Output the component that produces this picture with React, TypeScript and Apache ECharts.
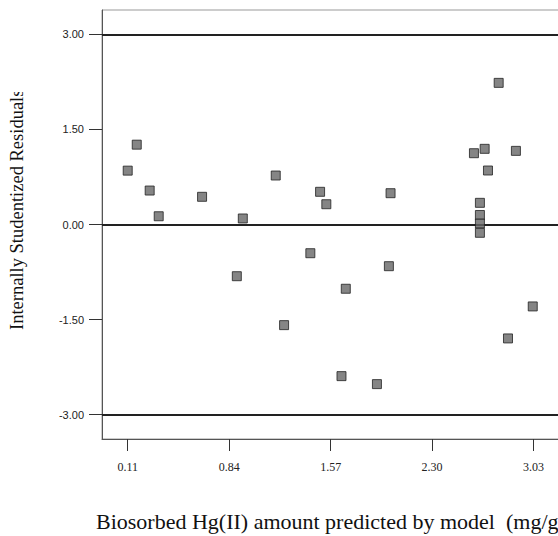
import React, { useEffect, useRef } from "react";
import * as echarts from "echarts";

const predicted = [
  0.11, 0.175, 0.268, 0.333, 0.645, 0.895, 0.938, 1.175, 1.235, 1.424,
  1.494, 1.539, 1.648, 1.679, 1.903, 2.001, 1.989, 2.601, 2.678, 2.702,
  2.779, 2.903, 2.644, 2.644, 2.644, 2.644, 2.846, 3.024,
];
const residuals = [
  0.85, 1.26, 0.536, 0.13, 0.437, -0.816, 0.095, 0.773, -1.588, -0.453,
  0.516, 0.32, -2.393, -1.014, -2.519, 0.494, -0.658, 1.125, 1.194, 0.852,
  2.235, 1.162, 0.342, 0.15, 0.016, -0.131, -1.798, -1.293,
];
const xTicks = [0.11, 0.84, 1.57, 2.3, 3.03];
const yTicks = [-3, -1.5, 0, 1.5, 3];
const refLines = [3, 0, -3];

const xTitle = "Biosorbed Hg(II) amount predicted by model  (mg/g)";
const yTitle = "Internally Studentized Residuals";

export default function App() {
  const ref = useRef<HTMLDivElement>(null);
  useEffect(() => {
    if (!ref.current) return;
    const chart = echarts.init(ref.current, undefined, { renderer: "svg" });
    const data = predicted.map((x, i) => [x, residuals[i]]);
    chart.setOption({
      animation: false,
      backgroundColor: "#fff",
      grid: {
        left: 102,
        top: 10,
        width: 483,
        height: 429,
        show: true,
        borderColor: "#999",
        borderWidth: 1,
      },
      xAxis: {
        type: "value",
        min: -0.075,
        max: 3.4,
        axisLine: { show: true, onZero: false, lineStyle: { color: "#555", width: 1 } },
        axisTick: {
          show: true,
          inside: false,
          length: 12,
          customValues: xTicks,
          lineStyle: { color: "#333", width: 1 },
        },
        axisLabel: {
          customValues: xTicks,
          formatter: (v: number) => v.toFixed(2),
          margin: 22,
          fontFamily: "Liberation Serif",
          fontSize: 12,
          color: "#222",
          verticalAlign: "top",
        },
        splitLine: { show: false },
      },
      yAxis: {
        type: "value",
        min: -3.385,
        max: 3.385,
        axisLine: { show: true, onZero: false, lineStyle: { color: "#555", width: 1 } },
        axisTick: {
          show: true,
          length: 13,
          customValues: yTicks,
          lineStyle: { color: "#333" },
        },
        axisLabel: {
          customValues: yTicks,
          formatter: (v: number) => v.toFixed(2),
          margin: 18,
          fontFamily: "Liberation Sans",
          fontSize: 11,
          color: "#222",
        },
        splitLine: { show: false },
      },
      series: [
        {
          type: "scatter",
          data,
          symbol: "rect",
          symbolSize: 9,
          itemStyle: { color: "#666", borderColor: "#222", borderWidth: 1 },
          z: 3,
          markLine: {
            silent: true,
            symbol: "none",
            label: { show: false },
            lineStyle: { color: "#222", width: 2, type: "solid" },
            data: refLines.map((v) => ({ yAxis: v })),
            z: 2,
          },
        },
      ],
      graphic: [
        {
          type: "text",
          left: 96,
          top: 510,
          style: {
            text: xTitle,
            font: "22px 'Liberation Serif'",
            fill: "#111",
          },
        },
        {
          type: "text",
          x: 7,
          y: 330,
          rotation: Math.PI / 2,
          style: {
            text: yTitle,
            font: "18.5px 'Liberation Serif'",
            fill: "#111",
            verticalAlign: "top",
          },
        },
        {
          type: "rect",
          shape: { x: 0, y: 0, width: 40, height: 92 },
          style: { fill: "#fff" },
          z: 100,
        },
      ],
    });
    return () => chart.dispose();
  }, []);
  return (
    <div
      style={{
        position: "fixed",
        left: 0,
        top: 0,
        width: 558,
        height: 536,
        overflow: "hidden",
        background: "#fff",
      }}
    >
      <div ref={ref} style={{ width: 640, height: 536 }} />
    </div>
  );
}
